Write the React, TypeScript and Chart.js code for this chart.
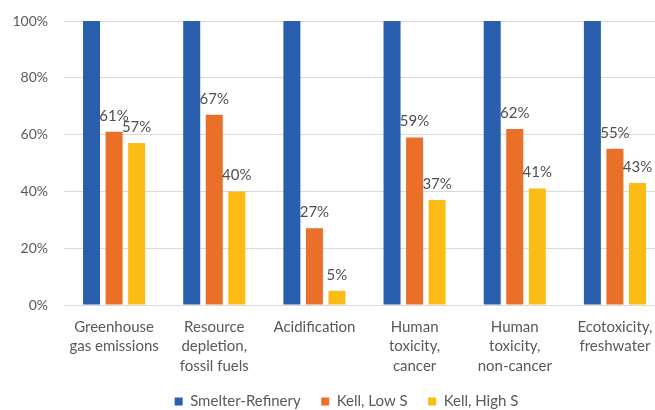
import React, { useEffect, useRef } from "react";
import { Chart, registerables } from "chart.js";

Chart.register(...registerables);

const categories: string[][] = [
  ["Greenhouse", "gas emissions"],
  ["Resource", "depletion,", "fossil fuels"],
  ["Acidification"],
  ["Human", "toxicity,", "cancer"],
  ["Human", "toxicity,", "non-cancer"],
  ["Ecotoxicity,", "freshwater"],
];

const smelterRefinery = [100, 100, 100, 100, 100, 100];
const kellLowS = [61, 67, 27, 59, 62, 55];
const kellHighS = [57, 40, 5, 37, 41, 43];

const seriesNames = ["Smelter-Refinery", "Kell, Low S", "Kell, High S"];
const seriesColors = ["#2A5FAD", "#EA6F28", "#FDBB16"];
const labelledSeries = [1, 2];

const yTicks = [0, 20, 40, 60, 80, 100];

const FONT = "Lato, 'Open Sans', sans-serif";
const TEXT = "#595959";

// Percentage labels above the two Kell series
const valueLabels = {
  id: "valueLabels",
  afterDatasetsDraw(chart: Chart) {
    const ctx = chart.ctx;
    ctx.save();
    ctx.font = `15px ${FONT}`;
    ctx.fillStyle = "#505050";
    ctx.textAlign = "center";
    ctx.textBaseline = "middle";
    labelledSeries.forEach((di) => {
      const meta = chart.getDatasetMeta(di);
      const values = chart.data.datasets[di].data as number[];
      meta.data.forEach((el: any, i: number) => {
        ctx.fillText(`${values[i]}%`, el.x, el.y - 16);
      });
    });
    ctx.restore();
  },
};

export default function App() {
  const ref = useRef<HTMLCanvasElement | null>(null);

  useEffect(() => {
    if (!ref.current) return;
    const data = [smelterRefinery, kellLowS, kellHighS];
    const chart = new Chart(ref.current, {
      type: "bar",
      data: {
        labels: categories,
        datasets: data.map((d, i) => ({
          label: seriesNames[i],
          data: d,
          backgroundColor: seriesColors[i],
          borderWidth: 0,
          categoryPercentage: 0.675,
          barPercentage: 0.755,
        })),
      },
      options: {
        responsive: false,
        animation: false,
        devicePixelRatio: 1,
        layout: { padding: { top: 21, left: 0, right: 0, bottom: 0 } },
        plugins: {
          tooltip: { enabled: false },
          legend: {
            position: "bottom",
            labels: {
              boxWidth: 8,
              boxHeight: 8,
              padding: 20.5,
              color: TEXT,
              font: { family: FONT, size: 15 },
            },
          },
        },
        scales: {
          x: {
            grid: { display: false, drawTicks: false },
            border: { display: false },
            ticks: {
              color: TEXT,
              padding: 12,
              maxRotation: 0,
              autoSkip: false,
              font: { family: FONT, size: 15, lineHeight: 1.3 },
            },
            afterFit: (s: any) => {
              s.height = 68.5;
            },
          },
          y: {
            min: 0,
            max: 100,
            afterBuildTicks: (s: any) => {
              s.ticks = yTicks.map((v) => ({ value: v }));
            },
            grid: { color: "#D9D9D9", drawTicks: false },
            border: { display: false },
            ticks: {
              color: TEXT,
              padding: 16,
              font: { family: FONT, size: 14 },
              callback: (v: any) => `${v}%`,
            },
            afterFit: (s: any) => {
              s.width = 64;
              s.paddingTop = 0;
              s.paddingBottom = 0;
            },
          },
          // empty right-hand axis that reserves the margin beyond the last group
          yRight: {
            position: "right",
            display: true,
            grid: { display: false },
            border: { display: false },
            ticks: { display: false },
            afterFit: (s: any) => {
              s.width = 28;
              s.paddingTop = 0;
              s.paddingBottom = 0;
            },
          },
        },
      },
      plugins: [valueLabels],
    });
    return () => chart.destroy();
  }, []);

  return (
    <div
      style={{
        position: "absolute",
        left: 0,
        top: 0,
        width: 655,
        height: 410,
        overflow: "hidden",
        background: "#ffffff",
      }}
    >
      <canvas ref={ref} width={693} height={419} style={{ display: "block" }} />
    </div>
  );
}
